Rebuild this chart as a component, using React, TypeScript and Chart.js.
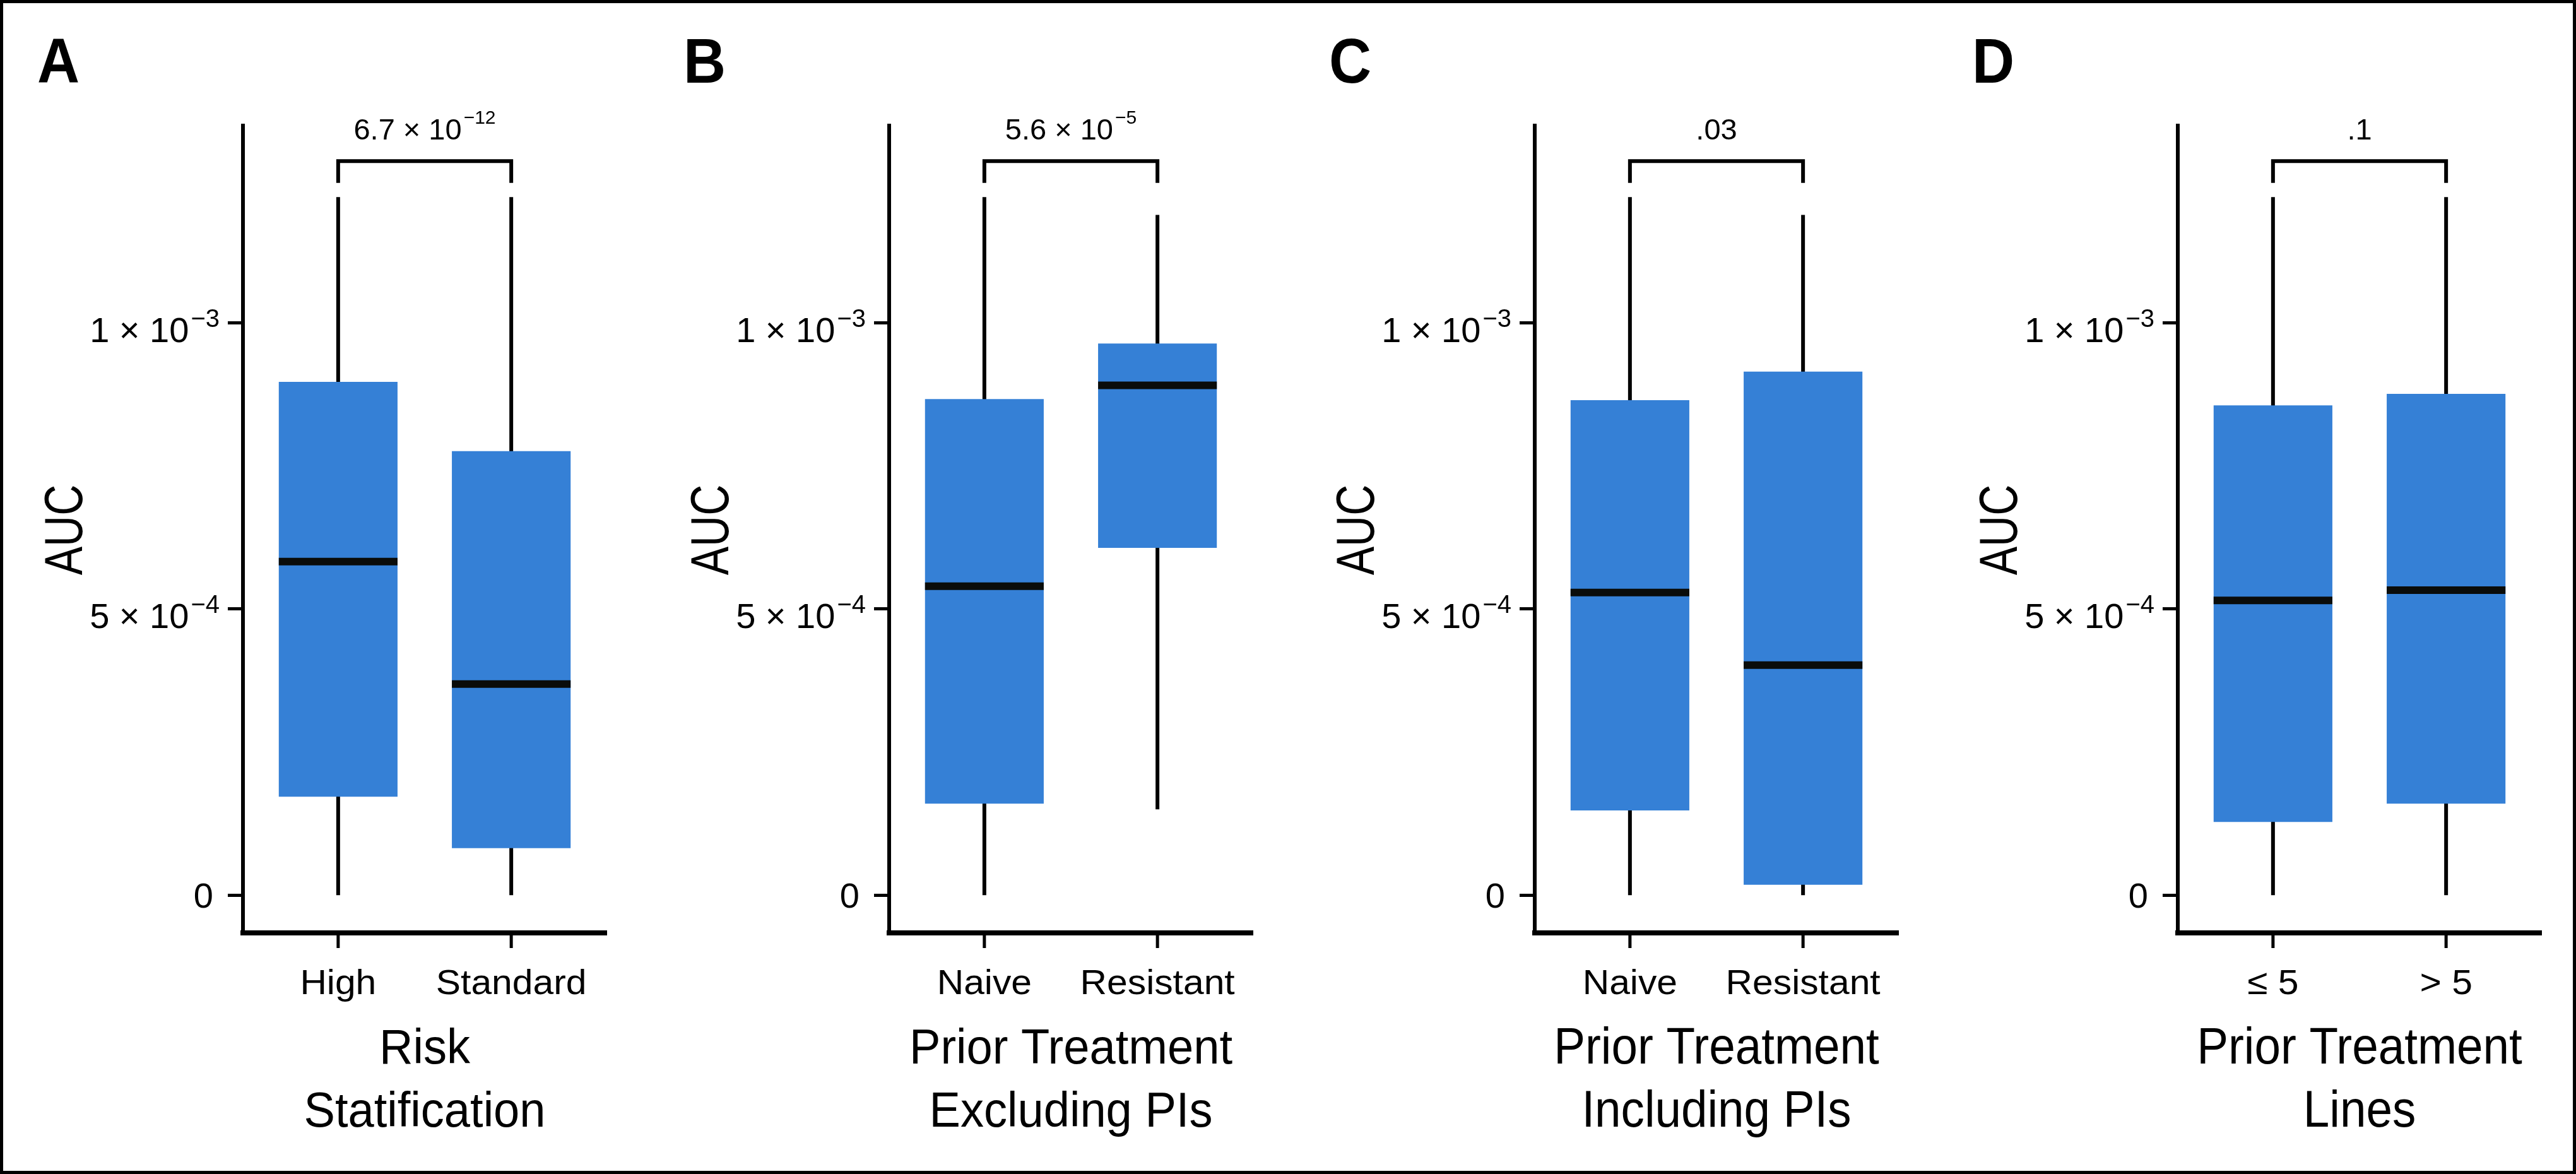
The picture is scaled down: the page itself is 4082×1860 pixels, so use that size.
import React, { useEffect, useRef } from 'react';
import { Chart, registerables } from 'chart.js';

Chart.register(...registerables);

// ---------- data ----------
const PANEL_LETTERS = ['A', 'B', 'C', 'D'];
const CATEGORY_LABELS = [
  ['High', 'Standard'],
  ['Naive', 'Resistant'],
  ['Naive', 'Resistant'],
  ['\u2264 5', '> 5'],
];
const AXIS_TITLES = [
  ['Risk', 'Statification'],
  ['Prior Treatment', 'Excluding PIs'],
  ['Prior Treatment', 'Including PIs'],
  ['Prior Treatment', 'Lines'],
];
const Y_TITLE = 'AUC';
const P_VALUE_BASE = ['6.7 \u00d7 10', '5.6 \u00d7 10', '.03', '.1'];
const P_VALUE_EXP = ['\u221212', '\u22125', '', ''];

const WHISKER_LOW = [
  [0, 0],
  [0, 0.000150],
  [0, 0],
  [0, 0],
];
const Q1 = [
  [0.000172, 0.000082],
  [0.000160, 0.000607],
  [0.000148, 0.000018],
  [0.000128, 0.000160],
];
const MEDIAN = [
  [0.000583, 0.000369],
  [0.000540, 0.000891],
  [0.000529, 0.000402],
  [0.000515, 0.000533],
];
const Q3 = [
  [0.000897, 0.000776],
  [0.000867, 0.000964],
  [0.000865, 0.000915],
  [0.000856, 0.000876],
];
const WHISKER_HIGH = [
  [0.001220, 0.001220],
  [0.001220, 0.001189],
  [0.001220, 0.001189],
  [0.001220, 0.001220],
];

const Y_TICK_VALUES = [0, 0.0005, 0.001];
const Y_TICK_BASE = ['0', '5 \u00d7 10', '1 \u00d7 10'];
const Y_TICK_EXP = ['', '\u22124', '\u22123'];

// axis limits and annotation levels (value units)
const Y_MIN = -0.000066;
const Y_MAX = 0.001345;
const X_MIN = 0.45;
const X_MAX = 2.55;
const BRACKET_LEVEL = 0.001283;
const BRACKET_LEG_END = 0.001245;

// ---------- styles ----------
const FONT = "'Liberation Sans', Arial, Helvetica, sans-serif";
const INK = '#000000';
const BOX_COLOR = '#3580d6';
const PANEL_LEFT = [0, 1024, 2047, 3066];
const CANVAS_W = 1016;
const CANVAS_H = 1860;
const TITLE_STYLE = [
  { size: 78, sx: 0.95 },
  { size: 78, sx: 0.95 },
  { size: 82, sx: 0.91 },
  { size: 82, sx: 0.91 },
];

function drawText(
  ctx: CanvasRenderingContext2D,
  text: string,
  x: number,
  y: number,
  size: number,
  sx: number,
  align: CanvasTextAlign,
  weight = 'normal'
) {
  ctx.save();
  ctx.font = `${weight} ${size}px ${FONT}`;
  ctx.fillStyle = INK;
  ctx.textBaseline = 'alphabetic';
  ctx.textAlign = align;
  ctx.translate(x, y);
  ctx.scale(sx, 1);
  ctx.fillText(text, 0, 0);
  ctx.restore();
}

function drawSci(
  ctx: CanvasRenderingContext2D,
  base: string,
  exp: string,
  anchorX: number,
  baseline: number,
  size: number,
  supSize: number,
  raise: number,
  align: 'right' | 'center'
) {
  ctx.save();
  ctx.font = `normal ${size}px ${FONT}`;
  const w1 = ctx.measureText(base).width;
  ctx.font = `normal ${supSize}px ${FONT}`;
  const gap = exp ? 3 : 0;
  const w2 = exp ? ctx.measureText(exp).width : 0;
  ctx.restore();
  const total = w1 + gap + w2;
  const start = align === 'right' ? anchorX - total : anchorX - total / 2;
  drawText(ctx, base, start, baseline, size, 1, 'left');
  if (exp) drawText(ctx, exp, start + w1 + gap, baseline - raise, supSize, 1, 'left');
}

function makePlugin(i: number) {
  return {
    id: 'boxplotDecor' + i,
    beforeDatasetsDraw(chart: any) {
      const { ctx, scales } = chart;
      ctx.save();
      ctx.strokeStyle = INK;
      ctx.lineWidth = 6;
      ctx.lineCap = 'butt';
      CATEGORY_LABELS[i].forEach((_, k) => {
        const px = scales.x.getPixelForValue(k + 1);
        ctx.beginPath();
        ctx.moveTo(px, scales.y.getPixelForValue(WHISKER_LOW[i][k]));
        ctx.lineTo(px, scales.y.getPixelForValue(WHISKER_HIGH[i][k]));
        ctx.stroke();
      });
      ctx.restore();
    },
    afterDatasetsDraw(chart: any) {
      const { ctx, scales } = chart;
      const meta = chart.getDatasetMeta(0);
      ctx.save();
      ctx.strokeStyle = '#0a0c0a';
      ctx.lineWidth = 12;
      ctx.lineCap = 'butt';
      meta.data.forEach((el: any, k: number) => {
        const py = scales.y.getPixelForValue(MEDIAN[i][k]);
        ctx.beginPath();
        ctx.moveTo(el.x - el.width / 2, py);
        ctx.lineTo(el.x + el.width / 2, py);
        ctx.stroke();
      });
      ctx.restore();
    },
    afterDraw(chart: any) {
      const { ctx, scales, chartArea } = chart;
      const { left, right, top, bottom } = chartArea;

      // x-axis category tick marks
      ctx.save();
      ctx.fillStyle = INK;
      CATEGORY_LABELS[i].forEach((_, k) => {
        const px = scales.x.getPixelForValue(k + 1);
        ctx.fillRect(px - 2.5, bottom, 5, 24);
      });
      ctx.restore();

      // significance bracket
      const x1 = scales.x.getPixelForValue(1);
      const x2 = scales.x.getPixelForValue(2);
      const yTop = scales.y.getPixelForValue(BRACKET_LEVEL);
      const yLeg = scales.y.getPixelForValue(BRACKET_LEG_END);
      ctx.save();
      ctx.strokeStyle = INK;
      ctx.lineWidth = 6;
      ctx.lineJoin = 'miter';
      ctx.lineCap = 'butt';
      ctx.beginPath();
      ctx.moveTo(x1, yLeg);
      ctx.lineTo(x1, yTop);
      ctx.lineTo(x2, yTop);
      ctx.lineTo(x2, yLeg);
      ctx.stroke();
      ctx.restore();

      // p-value
      drawSci(ctx, P_VALUE_BASE[i], P_VALUE_EXP[i], (x1 + x2) / 2, yTop - 34, 47, 30, 25, 'center');

      // panel letter
      drawText(ctx, PANEL_LETTERS[i], left - 326, top - 68, 100, 0.93, 'left', 'bold');

      // y tick labels
      Y_TICK_VALUES.forEach((v, k) => {
        const py = scales.y.getPixelForValue(v);
        if (Y_TICK_EXP[k]) {
          drawSci(ctx, Y_TICK_BASE[k], Y_TICK_EXP[k], left - 37, py + 30, 56, 40, 24, 'right');
        } else {
          drawText(ctx, Y_TICK_BASE[k], left - 47, py + 20, 56, 1, 'right');
        }
      });

      // x tick labels
      CATEGORY_LABELS[i].forEach((lab, k) => {
        const px = scales.x.getPixelForValue(k + 1);
        drawText(ctx, lab, px, bottom + 97, 56, 1.05, 'center');
      });

      // x title (two lines)
      const cx = (left + right) / 2;
      const ts = TITLE_STYLE[i];
      AXIS_TITLES[i].forEach((line, k) => {
        drawText(ctx, line, cx, bottom + 207 + k * 100, ts.size, ts.sx, 'center');
      });

      // y title (rotated)
      ctx.save();
      ctx.font = `normal 86px ${FONT}`;
      ctx.fillStyle = INK;
      ctx.textAlign = 'center';
      ctx.textBaseline = 'alphabetic';
      ctx.translate(left - 255, (top + bottom) / 2 + 1);
      ctx.rotate(-Math.PI / 2);
      ctx.scale(0.79, 1);
      ctx.fillText(Y_TITLE, 0, 0);
      ctx.restore();
    },
  };
}

function makeConfig(i: number): any {
  return {
    type: 'bar',
    data: {
      datasets: [
        {
          data: CATEGORY_LABELS[i].map((_, k) => ({ x: k + 1, y: [Q1[i][k], Q3[i][k]] })),
          backgroundColor: BOX_COLOR,
          borderWidth: 0,
          barPercentage: 0.686,
          categoryPercentage: 1,
        },
      ],
    },
    options: {
      responsive: false,
      animation: false,
      events: [],
      devicePixelRatio: 1,
      layout: { padding: { top: 199, right: 55, bottom: 0, left: 0 } },
      plugins: { legend: { display: false }, tooltip: { enabled: false }, title: { display: false } },
      scales: {
        x: {
          type: 'linear',
          position: 'bottom',
          min: X_MIN,
          max: X_MAX,
          offset: false,
          afterBuildTicks: (s: any) => {
            s.ticks = CATEGORY_LABELS[i].map((_, k) => ({ value: k + 1 }));
          },
          afterFit: (s: any) => {
            s.height = CANVAS_H - 1478;
          },
          ticks: { display: false },
          grid: { display: false, offset: false, drawOnChartArea: false, drawTicks: false },
          border: { display: true, width: 8, color: INK },
        },
        y: {
          type: 'linear',
          position: 'left',
          min: Y_MIN,
          max: Y_MAX,
          afterBuildTicks: (s: any) => {
            s.ticks = Y_TICK_VALUES.map((v) => ({ value: v }));
          },
          afterFit: (s: any) => {
            s.width = 385;
          },
          ticks: { display: false },
          grid: {
            display: true,
            offset: false,
            drawOnChartArea: false,
            drawTicks: true,
            tickLength: 24,
            tickWidth: 5,
            tickColor: INK,
          },
          border: { display: true, width: 6, color: INK },
        },
      },
    },
    plugins: [makePlugin(i)],
  };
}

function Panel({ index }: { index: number }) {
  const ref = useRef<HTMLCanvasElement>(null);
  useEffect(() => {
    if (!ref.current) return;
    const chart = new Chart(ref.current, makeConfig(index));
    return () => chart.destroy();
  }, [index]);
  return (
    <canvas
      ref={ref}
      width={CANVAS_W}
      height={CANVAS_H}
      style={{ position: 'absolute', left: PANEL_LEFT[index], top: 0, width: CANVAS_W, height: CANVAS_H }}
    />
  );
}

export default function App() {
  return (
    <div
      style={{
        position: 'absolute',
        left: 0,
        top: 0,
        width: 4082,
        height: 1860,
        background: '#ffffff',
        overflow: 'hidden',
      }}
    >
      {PANEL_LETTERS.map((_, i) => (
        <Panel key={i} index={i} />
      ))}
      <div
        style={{
          position: 'absolute',
          left: 0,
          top: 0,
          width: 4082,
          height: 1860,
          boxSizing: 'border-box',
          border: '5px solid #000',
          pointerEvents: 'none',
        }}
      />
    </div>
  );
}
